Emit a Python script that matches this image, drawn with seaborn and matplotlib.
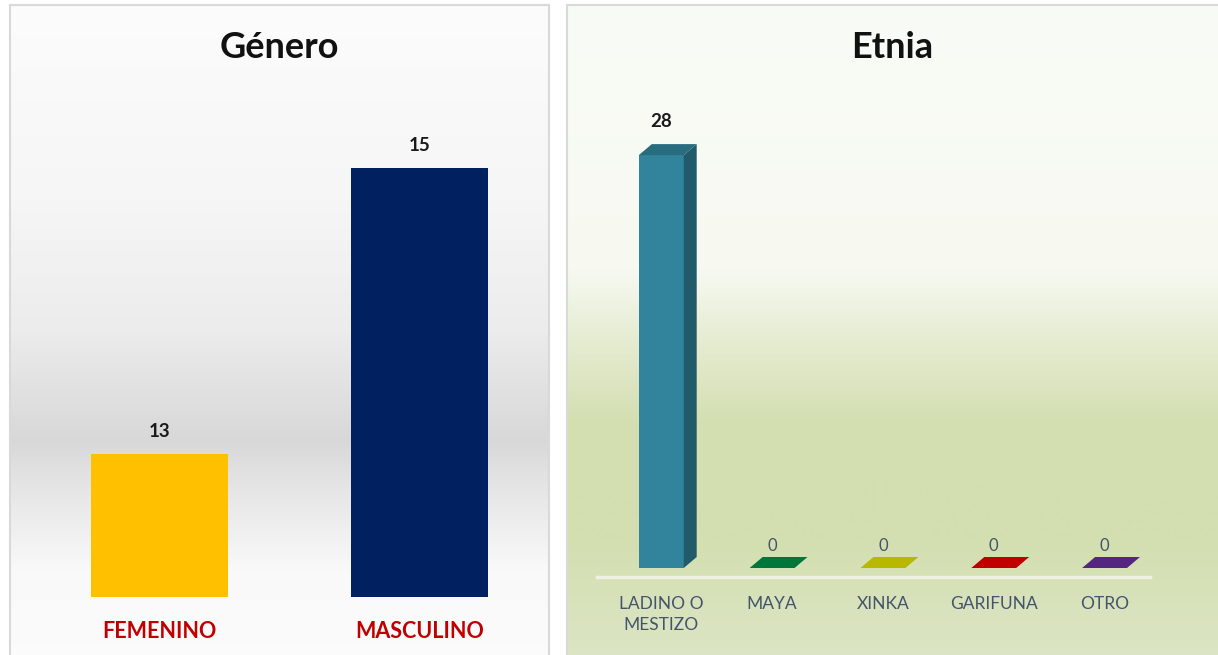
import numpy as np
import matplotlib
matplotlib.use("Agg")
import matplotlib.pyplot as plt
import matplotlib.colors as mcolors
from matplotlib.patches import Polygon
import seaborn as sns

# data
GENERO = ["FEMENINO", "MASCULINO"]
GENERO_N = [13, 15]
GENERO_COLORS = ["#FFC000", "#002060"]

ETNIA = ["LADINO O\nMESTIZO", "MAYA", "XINKA", "GARIFUNA", "OTRO"]
ETNIA_N = [28, 0, 0, 0, 0]
ETNIA_COLORS = ["#31849B", "#00773A", "#B8B800", "#C00000", "#55267F"]

W, H = 1218, 655


def px(x0, y0, x1, y1):
    # pixel box (origin top-left) -> figure rect
    return [x0 / W, 1 - y1 / H, (x1 - x0) / W, (y1 - y0) / H]


def panel(fig, box, stops, colors, hide=("bottom",)):
    ax = fig.add_axes(px(*box), zorder=0)
    ys = np.arange(box[1], box[3])
    rgb = np.array([mcolors.to_rgb(c) for c in colors])
    img = np.stack([np.interp(ys, stops, rgb[:, i]) for i in range(3)], axis=-1)
    ax.imshow(img[:, None, :], aspect="auto", extent=[0, 1, 0, 1])
    ax.set_xticks([])
    ax.set_yticks([])
    for side, sp in ax.spines.items():
        sp.set_color("#D9D9D9")
        sp.set_linewidth(1.5)
        sp.set_visible(side not in hide)
    return ax


def main():
    sns.set_theme(style="white")
    plt.rcParams["font.family"] = ["Lato", "DejaVu Sans"]

    fig = plt.figure(figsize=(W / 100, H / 100), dpi=100, facecolor="white")

    # panel backgrounds
    panel(fig, (10, 5, 549, 680),
          [5, 200, 330, 440, 490, 570, 680],
          ["#FCFCFC", "#F6F6F6", "#ECECEC", "#D8D8D8", "#E6E6E6", "#F9F9F9", "#FCFCFC"])
    panel(fig, (567, 5, 1230, 680),
          [5, 270, 330, 420, 540, 680],
          ["#F9FBF6", "#F7F9F1", "#E8EED6", "#D4DFB2", "#D3DFB0", "#DEE6C9"],
          hide=("bottom", "right"))

    # Género
    ax1 = fig.add_axes(px(30, 25, 549, 597), zorder=2)
    ax1.patch.set_alpha(0)
    sns.barplot(x=GENERO, y=GENERO_N, hue=GENERO, palette=GENERO_COLORS,
                saturation=1, width=0.528, linewidth=0, legend=False, ax=ax1)
    ax1.set_xlim(-0.5, 1.5)
    ax1.set_ylim(12, 16)
    ax1.set_yticks([])
    sns.despine(ax=ax1, left=True, bottom=True)
    ax1.tick_params(axis="x", length=0, pad=17, labelsize=15.5,
                    labelcolor="#C00000")
    for lab in ax1.get_xticklabels():
        lab.set_fontweight("bold")
    for c in ax1.containers:
        ax1.bar_label(c, padding=10, fontsize=13.5, fontweight="bold", color="#1A1A1A")

    # Etnia
    ax2 = fig.add_axes(px(597, 103.5, 1150, 577), zorder=2)
    ax2.patch.set_alpha(0)
    sns.barplot(x=ETNIA, y=ETNIA_N, hue=ETNIA, palette=ETNIA_COLORS,
                saturation=1, width=0.405, linewidth=0, legend=False, ax=ax2)
    ax2.set_xlim(-0.58, 4.41)
    ax2.set_ylim(-0.61, 31.5)
    ax2.set_yticks([])
    sns.despine(ax=ax2, left=True)
    ax2.spines["bottom"].set_color("#EEF2E2")
    ax2.spines["bottom"].set_linewidth(2.5)
    ax2.tick_params(axis="x", length=0, pad=14, labelsize=12.5,
                    labelcolor="#44546A")
    for lab in ax2.get_xticklabels():
        lab.set_linespacing(1.35)

    # 3-D faces derived from the bar patches
    dx, dy = 13 / 111, 11 / 14.75
    for p in list(ax2.patches):
        x0, w, h = p.get_x(), p.get_width(), p.get_height()
        base = np.array(p.get_facecolor()[:3])
        top_c = base * 0.82 if h > 0 else base
        side = Polygon([(x0 + w, 0), (x0 + w + dx, dy), (x0 + w + dx, h + dy), (x0 + w, h)],
                       closed=True, facecolor=base * 0.68, edgecolor="none", zorder=3)
        top = Polygon([(x0, h), (x0 + w, h), (x0 + w + dx, h + dy), (x0 + dx, h + dy)],
                      closed=True, facecolor=top_c, edgecolor="none", zorder=3)
        ax2.add_patch(side)
        ax2.add_patch(top)

    for c in ax2.containers:
        v = c.datavalues[0]
        if v > 0:
            ax2.bar_label(c, padding=18, fontsize=13.5, fontweight="bold", color="#1A1A1A")
        else:
            ax2.bar_label(c, padding=10, fontsize=12, color="#44546A")

    fig.text(279 / W, 1 - 48 / H, "Género", ha="center", va="center",
             fontsize=26, fontweight="bold", color="#111111")
    fig.text(892 / W, 1 - 48 / H, "Etnia", ha="center", va="center",
             fontsize=26, fontweight="bold", color="#111111")

    fig.savefig("out.png", dpi=100, facecolor="white")


if __name__ == "__main__":
    main()
